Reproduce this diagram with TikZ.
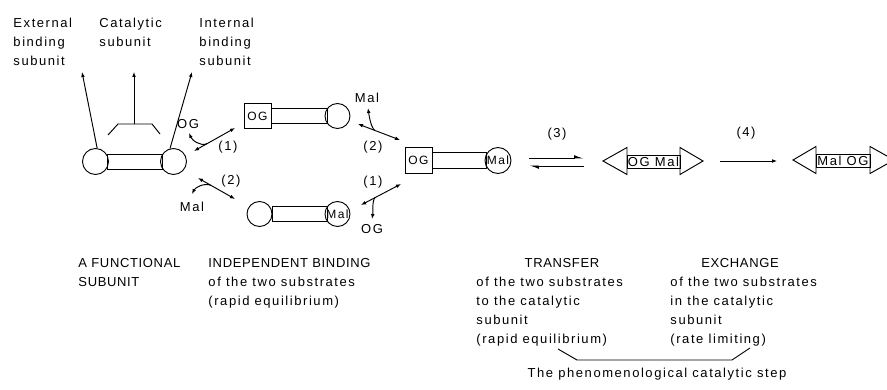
\documentclass[tikz,border=0pt]{standalone}
\usepackage{fontspec}
\setmainfont{Liberation Sans}[LetterSpace=12]
\newfontfamily\lowfont{Liberation Sans}[LetterSpace=12]
\newfontfamily\capfont{Liberation Sans}[LetterSpace=5]
\usetikzlibrary{arrows.meta,calc}
\tikzset{
  mol/.style={draw,circle,minimum size=25pt,inner sep=0pt,font=\lowfont\fontsize{12}{14}\selectfont},
  ogbox/.style={draw,rectangle,minimum width=27pt,minimum height=25pt,inner sep=0pt,font=\lowfont\fontsize{12}{14}\selectfont},
  rodbox/.style={draw,rectangle,minimum height=15pt,inner sep=0pt},
  lab/.style={inner sep=0pt,align=left},
  sm/.style={inner sep=0pt},
  dbl/.style={{Latex[length=5pt,width=3.8pt]}-{Latex[length=5pt,width=3.8pt]}},
  sgl/.style={-{Latex[length=5pt,width=3.8pt]}},
  harp/.style={-{Latex[harpoon,length=8pt,width=6pt]}}
}
\begin{document}
\begin{tikzpicture}[x=1pt,y=-1pt,line width=0.95pt,font=\lowfont\fontsize{13}{19}\selectfont]
\useasboundingbox[fill=white] (0,0) rectangle (887,390);
\clip (0,0) rectangle (887,390);

% top labels
\node[lab,anchor=north west] (ext) at (13,17.5) {External\\binding\\subunit};
\node[lab,anchor=north west] (cat) at (99,17.5) {Catalytic\\subunit};
\node[lab,anchor=north west] (int) at (199,17.5) {Internal\\binding\\subunit};

% functional subunit
\node[mol,minimum size=26pt] (A1) at (95.5,161.5) {};
\node[mol,minimum size=26pt] (A2) at (173.5,161.5) {};
\node[rodbox,minimum width=55pt] (Ar) at (134.5,161.5) {};
\coordinate (bl) at (108,135);
\coordinate (bm1) at (118,124);
\coordinate (br) at (134,124);
\coordinate (bm2) at (152,124);
\coordinate (bre) at (160,134);
\draw (bl) -- (bm1) -- (bm2) -- (bre);
\coordinate (tE) at (82,72);
\coordinate (tC) at (134,72);
\coordinate (tI) at (192,72);
\draw[sgl] (A1.83) -- (tE);
\draw[sgl] (br) -- (tC);
\draw[sgl] (A2.105) -- (tI);

% upper-left binding (OG)
\node[sm] (og1) at (188,124) {OG};
\coordinate (a1s) at (194,151);
\coordinate (a1e) at (235,128);
\coordinate (a1b) at (189,133);
\draw[dbl] (a1s) -- (a1e);
\draw[sgl] ($(a1s)!0.32!(a1e)$) .. controls +(-7,3) and +(3,7) .. (a1b);
\node[sm] (n1a) at (228,147) {(1)};

% lower-left binding (Mal)
\coordinate (a2s) at (198,178);
\coordinate (a2e) at (235,199);
\coordinate (a2b) at (192,194);
\draw[dbl] (a2s) -- (a2e);
\draw[sgl] ($(a2s)!0.35!(a2e)$) .. controls +(-7,-3) and +(3,-6) .. (a2b);
\node[sm] (mal1) at (192,207) {Mal};
\node[sm] (n2a) at (231,181) {(2)};

% upper intermediate
\node[ogbox] (B1) at (257.5,116) {OG};
\node[mol] (B2) at (337.5,116) {};
\node[rodbox,minimum width=56pt] (Br) at (299,116) {};

% lower intermediate
\node[mol] (C1) at (259.5,214) {};
\node[mol] (C2) at (337.5,214) {Mal};
\node[rodbox,minimum width=55pt] (Cr) at (299.5,214) {};

% upper-right binding (Mal)
\coordinate (a3s) at (358,124);
\coordinate (a3e) at (400,140);
\coordinate (a3b) at (368,108);
\draw[dbl] (a3s) -- (a3e);
\draw[sgl] ($(a3s)!0.4!(a3e)$) .. controls +(-4,-3) and +(1,7) .. (a3b);
\node[sm] (mal2) at (367,98) {Mal};
\node[sm] (n2b) at (373,147) {(2)};

% lower-right binding (OG)
\coordinate (a4s) at (361,205);
\coordinate (a4e) at (401,184);
\coordinate (a4b) at (372,219);
\draw[dbl] (a4s) -- (a4e);
\draw[sgl] ($(a4s)!0.35!(a4e)$) .. controls +(-3,3) and +(1,-6) .. (a4b);
\node[sm] (og2) at (372,229) {OG};
\node[sm] (n1b) at (373,182) {(1)};

% ternary complex
\node[ogbox,minimum height=26pt] (D1) at (418.5,160.5) {OG};
\node[mol,minimum size=26pt] (D2) at (498,160.5) {Mal};
\node[rodbox,minimum width=54pt,minimum height=16pt] (Dr) at (459,160.5) {};

% equilibrium (3)
\coordinate (e1) at (529,158);
\coordinate (e2) at (584,158);
\coordinate (e3) at (584,166);
\coordinate (e4) at (529,166);
\draw[harp] (e1) -- (e2);
\draw[harp] (e3) -- (e4);
\node[sm] (n3) at (557,134) {(3)};

% OG Mal in catalytic subunit
\node[draw,rectangle,minimum width=53pt,minimum height=13pt,inner sep=0pt] (E) at (653.5,161.5) {OG Mal};
\draw (627,147.5) -- (603,161) -- (627,174.5) -- cycle;
\draw (680,147.5) -- (703,161) -- (680,174.5) -- cycle;

% exchange (4)
\coordinate (f1) at (720,161);
\coordinate (f2) at (777,161);
\draw[sgl] (f1) -- (f2);
\node[sm] (n4) at (746,133) {(4)};

% Mal OG
\node[draw,rectangle,minimum width=54pt,minimum height=13pt,inner sep=0pt] (F) at (843,160.5) {Mal OG};
\draw (816,146.5) -- (793,160) -- (816,173.5) -- cycle;
\draw (870,146.5) -- (894,160) -- (870,173.5) -- cycle;

% bottom texts
\node[lab,anchor=north west] (t1) at (78,257.5) {{\capfont A FUNCTIONAL}\\{\capfont SUBUNIT}};
\node[lab,anchor=north west] (t2) at (208,257.5) {{\capfont INDEPENDENT BINDING}\\of the two substrates\\(rapid equilibrium)};
\node[sm,anchor=north] (t3h) at (562,257.5) {\capfont TRANSFER};
\node[lab,anchor=north west] (t3) at (476,277) {of the two substrates\\to the catalytic\\subunit\\(rapid equilibrium)};
\node[sm,anchor=north] (t4h) at (740,257.5) {\capfont EXCHANGE};
\node[lab,anchor=north west] (t4) at (670,277) {of the two substrates\\in the catalytic\\subunit\\(rate limiting)};

% brace and caption
\coordinate (g1) at (558,349);
\coordinate (g2) at (577,360);
\coordinate (g3) at (732,360);
\coordinate (g4) at (750,348);
\draw (g1) -- (g2) -- (g3) -- (g4);
\node[sm,anchor=base] (cap) at (657,377.5) {The phenomenological catalytic step};
\end{tikzpicture}
\end{document}
